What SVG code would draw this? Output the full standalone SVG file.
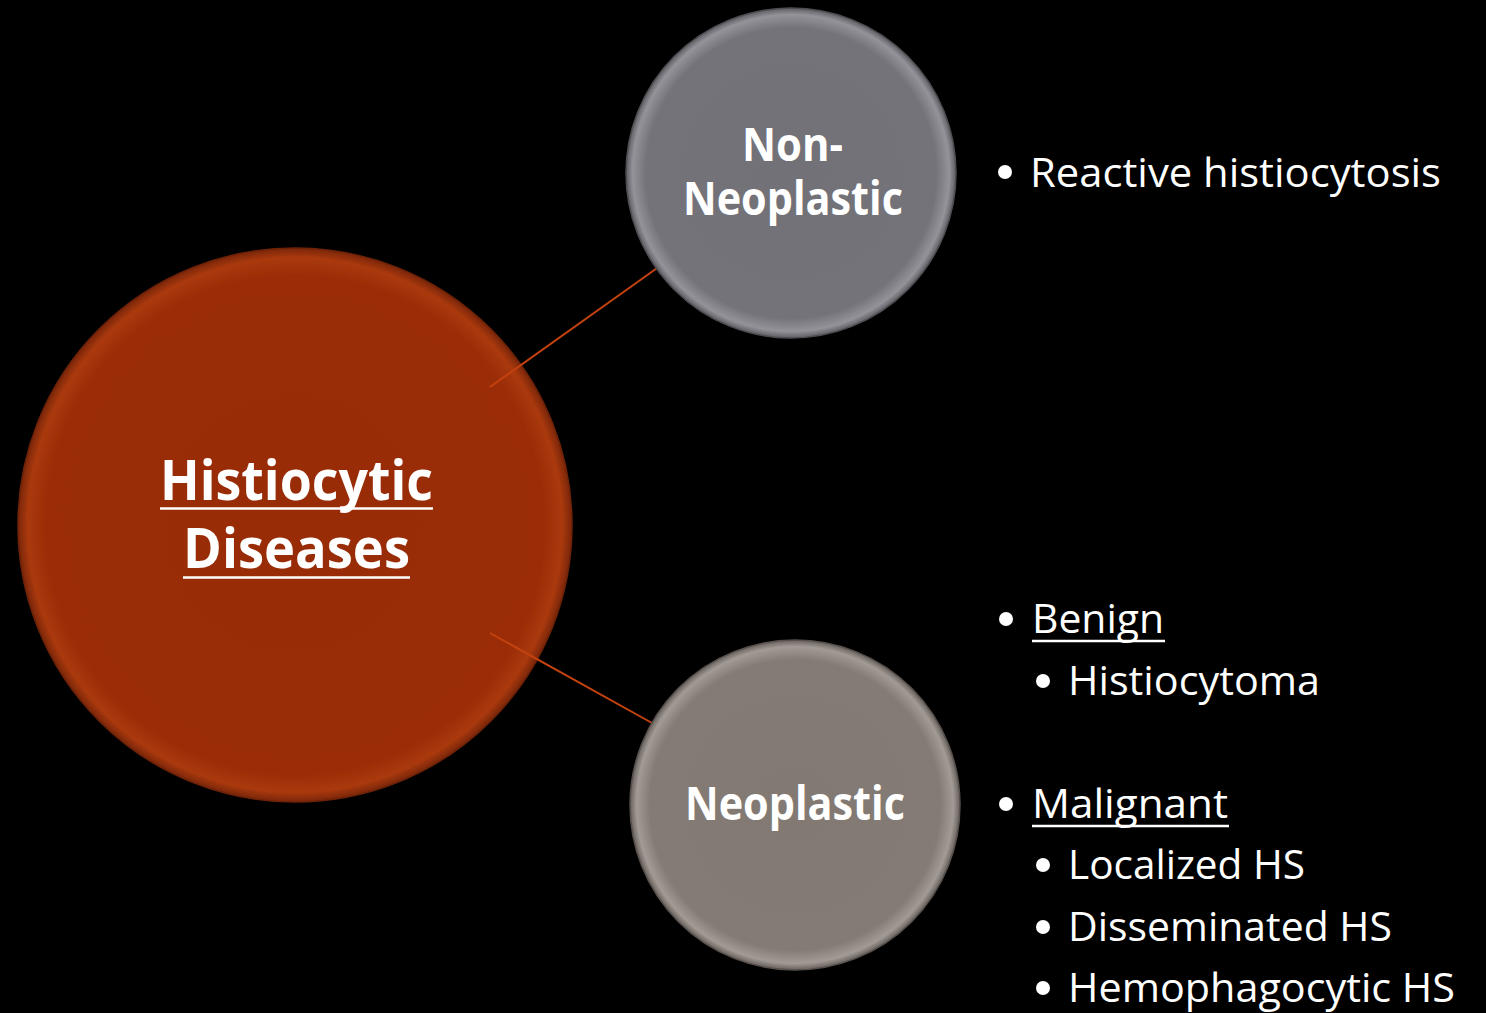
<svg xmlns="http://www.w3.org/2000/svg" width="1486" height="1013" viewBox="0 0 1486 1013">
<defs>
<radialGradient id="gRed" cx="0.5" cy="0.5" r="0.5">
<stop offset="0" stop-color="#982C06"/>
<stop offset="0.9" stop-color="#9A2D07"/>
<stop offset="0.965" stop-color="#AA390D"/>
<stop offset="1" stop-color="#7A260A"/>
</radialGradient>
<radialGradient id="gGrey1" cx="0.5" cy="0.5" r="0.5">
<stop offset="0" stop-color="#727177"/>
<stop offset="0.88" stop-color="#747379"/>
<stop offset="0.96" stop-color="#94939A"/>
<stop offset="1" stop-color="#5E5D62"/>
</radialGradient>
<radialGradient id="gGrey2" cx="0.5" cy="0.5" r="0.5">
<stop offset="0" stop-color="#827973"/>
<stop offset="0.88" stop-color="#847B75"/>
<stop offset="0.96" stop-color="#A29A94"/>
<stop offset="1" stop-color="#67605B"/>
</radialGradient>
</defs>
<style>
.node-text{font-family:"Open Sans","Liberation Sans",sans-serif;font-weight:bold;fill:#FFFFFF;text-anchor:start}
.list{font-family:"Open Sans","Liberation Sans",sans-serif;fill:#FFFFFF;font-size:41px}
.conn{stroke:#C4420F;stroke-width:2;fill:none}
.bullet{fill:#FFFFFF}
.ul{stroke:#FFFFFF;stroke-width:2.5}
</style>
<rect x="0" y="0" width="1486" height="1013" fill="#000000"/>

<g id="node-histiocytic">
<circle cx="295" cy="525" r="277" fill="url(#gRed)" stroke="#6E2208" stroke-width="1.5"/>
<text class="node-text" x="160" y="500" font-size="56" textLength="273" lengthAdjust="spacingAndGlyphs">Histiocytic</text>
<line class="ul" x1="160" y1="508.5" x2="433" y2="508.5" stroke-width="3"/>
<text class="node-text" x="183" y="568" font-size="56" textLength="227" lengthAdjust="spacingAndGlyphs">Diseases</text>
<line class="ul" x1="183" y1="577.5" x2="410" y2="577.5" stroke-width="3"/>
</g>

<g id="connectors">
<line class="conn" x1="490" y1="387" x2="660" y2="266"/>
<line class="conn" x1="490" y1="633" x2="652" y2="723"/>
</g>

<g id="node-nonneoplastic">
<circle cx="791" cy="173" r="165" fill="url(#gGrey1)" stroke="#4E4D52" stroke-width="1.5"/>
<text class="node-text" x="742" y="161" font-size="46" textLength="101" lengthAdjust="spacingAndGlyphs">Non-</text>
<text class="node-text" x="683" y="215" font-size="46" textLength="220" lengthAdjust="spacingAndGlyphs">Neoplastic</text>
</g>

<g id="node-neoplastic">
<circle cx="795" cy="805" r="165" fill="url(#gGrey2)" stroke="#57504C" stroke-width="1.5"/>
<text class="node-text" x="685" y="820" font-size="46" textLength="220" lengthAdjust="spacingAndGlyphs">Neoplastic</text>
</g>

<g id="list-nonneoplastic">
<circle class="bullet" cx="1005" cy="172" r="7"/>
<text class="list" x="1030" y="187" textLength="411" lengthAdjust="spacingAndGlyphs">Reactive histiocytosis</text>
</g>

<g id="list-neoplastic">
<circle class="bullet" cx="1006" cy="619" r="7"/>
<text class="list" x="1032" y="633" textLength="132" lengthAdjust="spacingAndGlyphs">Benign</text>
<line class="ul" x1="1032" y1="641" x2="1165" y2="641"/>
<circle class="bullet" cx="1043" cy="681" r="7"/>
<text class="list" x="1068" y="695" textLength="252" lengthAdjust="spacingAndGlyphs">Histiocytoma</text>
<circle class="bullet" cx="1006" cy="804" r="7"/>
<text class="list" x="1032" y="818" textLength="196" lengthAdjust="spacingAndGlyphs">Malignant</text>
<line class="ul" x1="1032" y1="826" x2="1229" y2="826"/>
<circle class="bullet" cx="1043" cy="865" r="7"/>
<text class="list" x="1068" y="879" textLength="237" lengthAdjust="spacingAndGlyphs">Localized HS</text>
<circle class="bullet" cx="1043" cy="927" r="7"/>
<text class="list" x="1068" y="941" textLength="324" lengthAdjust="spacingAndGlyphs">Disseminated HS</text>
<circle class="bullet" cx="1043" cy="988" r="7"/>
<text class="list" x="1068" y="1002" textLength="387" lengthAdjust="spacingAndGlyphs">Hemophagocytic HS</text>
</g>
</svg>
